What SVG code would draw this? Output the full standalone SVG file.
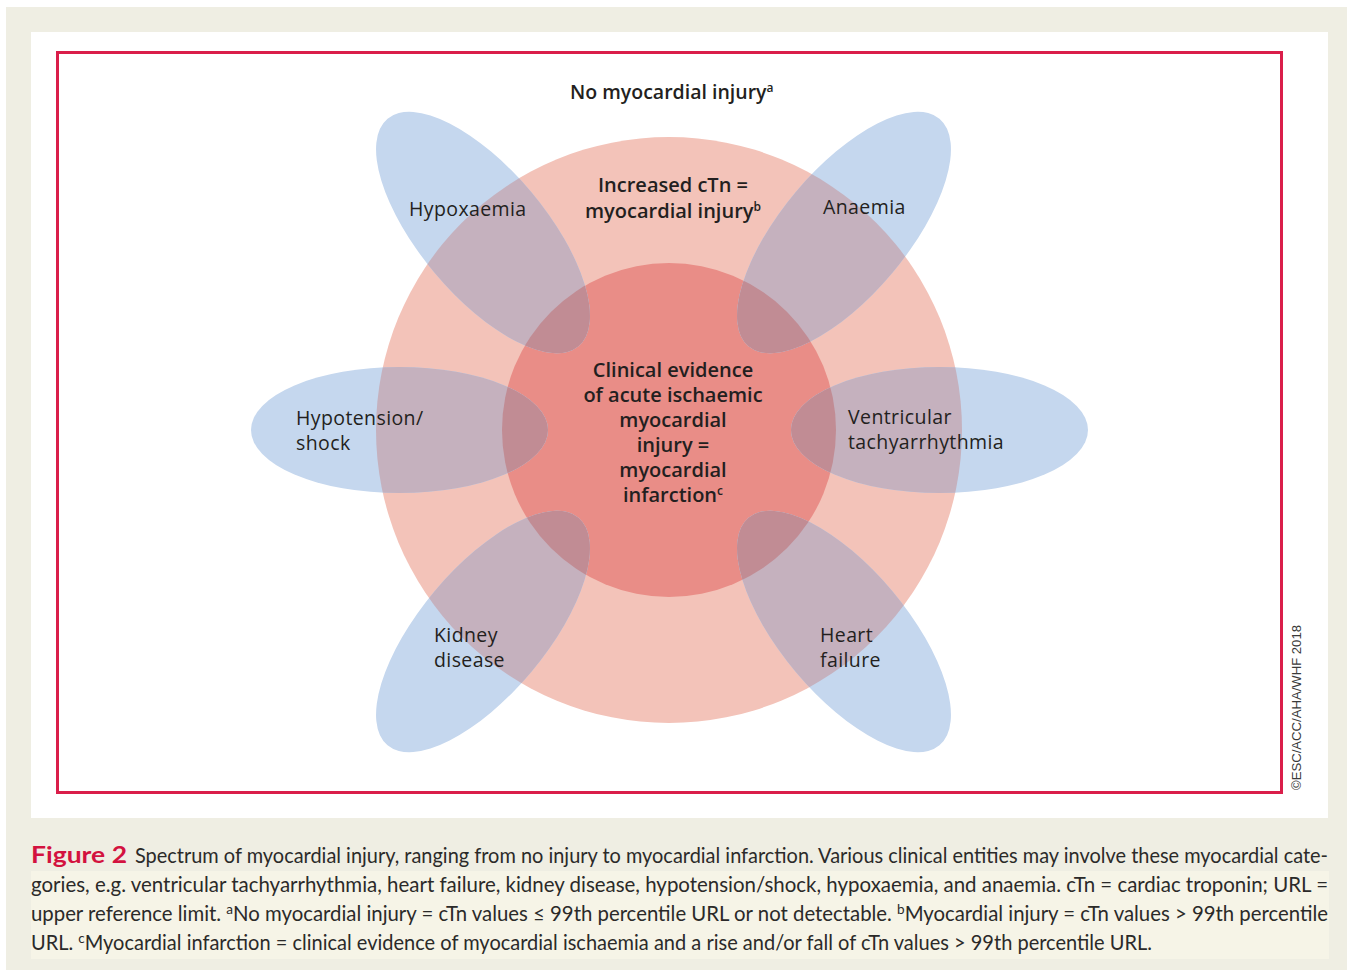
<svg xmlns="http://www.w3.org/2000/svg" width="1353" height="977" viewBox="0 0 1353 977">
<defs>
<style>
.lbl{font-family:"Open Sans","DejaVu Sans",sans-serif;font-size:19.5px;fill:#231F20;letter-spacing:0.4px;}
.ctr{font-family:"Open Sans","DejaVu Sans",sans-serif;font-size:20px;font-weight:600;fill:#231F20;text-anchor:middle;}
.cap{font-family:"Lato","Liberation Sans",sans-serif;font-size:21px;fill:#2B2A29;}
.sup{font-size:12px;}
.csup{font-size:14px;}
.blue{fill:#C5D7EE;}
.ov1{fill:#C5B1BE;}
.ov2{fill:#C18C94;}
</style>
<clipPath id="c1"><ellipse cx="0" cy="0" rx="148.5" ry="63" transform="translate(399.5 430)"/></clipPath>
<clipPath id="c2"><ellipse cx="0" cy="0" rx="148.5" ry="63" transform="translate(939.5 430)"/></clipPath>
<clipPath id="c3"><ellipse cx="0" cy="0" rx="148.5" ry="63" transform="translate(483 232.5) rotate(50)"/></clipPath>
<clipPath id="c4"><ellipse cx="0" cy="0" rx="148.5" ry="63" transform="translate(844 232.5) rotate(-50)"/></clipPath>
<clipPath id="c5"><ellipse cx="0" cy="0" rx="148.5" ry="63" transform="translate(483 631.5) rotate(-50)"/></clipPath>
<clipPath id="c6"><ellipse cx="0" cy="0" rx="148.5" ry="63" transform="translate(844 631.5) rotate(50)"/></clipPath>
</defs>
<rect x="0" y="0" width="1353" height="977" fill="#FFFFFF"/>
<rect x="6" y="7" width="1341" height="963" fill="#EFEEE3"/>
<rect x="31" y="871" width="1298" height="88" fill="#F6F4E7"/>
<rect x="31" y="32" width="1297" height="786" fill="#FFFFFF"/>
<rect x="57.5" y="52.5" width="1224" height="740" fill="none" stroke="#DA1E4A" stroke-width="3"/>

<g id="outer-circle"><circle cx="669" cy="430" r="293" fill="#F3C3B9"/></g>
<g id="inner-circle"><circle cx="669" cy="430" r="167" fill="#E98D87"/></g>

<g id="hypotension">
<ellipse class="blue" cx="0" cy="0" rx="148.5" ry="63" transform="translate(399.5 430)"/>
<circle class="ov1" cx="669" cy="430" r="293" clip-path="url(#c1)"/>
<circle class="ov2" cx="669" cy="430" r="167" clip-path="url(#c1)"/>
</g>
<g id="ventricular">
<ellipse class="blue" cx="0" cy="0" rx="148.5" ry="63" transform="translate(939.5 430)"/>
<circle class="ov1" cx="669" cy="430" r="293" clip-path="url(#c2)"/>
<circle class="ov2" cx="669" cy="430" r="167" clip-path="url(#c2)"/>
</g>
<g id="hypoxaemia">
<ellipse class="blue" cx="0" cy="0" rx="148.5" ry="63" transform="translate(483 232.5) rotate(50)"/>
<circle class="ov1" cx="669" cy="430" r="293" clip-path="url(#c3)"/>
<circle class="ov2" cx="669" cy="430" r="167" clip-path="url(#c3)"/>
</g>
<g id="anaemia">
<ellipse class="blue" cx="0" cy="0" rx="148.5" ry="63" transform="translate(844 232.5) rotate(-50)"/>
<circle class="ov1" cx="669" cy="430" r="293" clip-path="url(#c4)"/>
<circle class="ov2" cx="669" cy="430" r="167" clip-path="url(#c4)"/>
</g>
<g id="kidney">
<ellipse class="blue" cx="0" cy="0" rx="148.5" ry="63" transform="translate(483 631.5) rotate(-50)"/>
<circle class="ov1" cx="669" cy="430" r="293" clip-path="url(#c5)"/>
<circle class="ov2" cx="669" cy="430" r="167" clip-path="url(#c5)"/>
</g>
<g id="heart">
<ellipse class="blue" cx="0" cy="0" rx="148.5" ry="63" transform="translate(844 631.5) rotate(50)"/>
<circle class="ov1" cx="669" cy="430" r="293" clip-path="url(#c6)"/>
<circle class="ov2" cx="669" cy="430" r="167" clip-path="url(#c6)"/>
</g>

<g id="connectors"></g>

<g id="labels">
<text x="570" y="99" style="font-family:'Open Sans','DejaVu Sans',sans-serif;font-size:19.5px;font-weight:600;fill:#231F20">No myocardial injury<tspan class="sup" dy="-7">a</tspan></text>
<text class="ctr" x="673" y="192">Increased cTn =</text>
<text class="ctr" x="673" y="218">myocardial injury<tspan class="sup" dy="-7">b</tspan></text>
<text class="ctr" x="673" y="377">Clinical evidence</text>
<text class="ctr" x="673" y="402">of acute ischaemic</text>
<text class="ctr" x="673" y="427">myocardial</text>
<text class="ctr" x="673" y="452">injury =</text>
<text class="ctr" x="673" y="477">myocardial</text>
<text class="ctr" x="673" y="502">infarction<tspan class="sup" dy="-7">c</tspan></text>
<text class="lbl" x="409" y="216">Hypoxaemia</text>
<text class="lbl" x="823" y="214">Anaemia</text>
<text class="lbl" x="296" y="425">Hypotension/</text>
<text class="lbl" x="296" y="450">shock</text>
<text class="lbl" x="848" y="424">Ventricular</text>
<text class="lbl" x="848" y="449">tachyarrhythmia</text>
<text class="lbl" x="434" y="642">Kidney</text>
<text class="lbl" x="434" y="667">disease</text>
<text class="lbl" x="820" y="642">Heart</text>
<text class="lbl" x="820" y="667">failure</text>
<text transform="translate(1301 790) rotate(-90)" style="font-family:'Liberation Sans',sans-serif;font-size:12.5px;fill:#3A3A3A" textLength="165" lengthAdjust="spacingAndGlyphs">©ESC/ACC/AHA/WHF 2018</text>
</g>

<g id="caption">
<text x="31" y="863" style="font-family:'Lato','Liberation Sans',sans-serif;font-size:23px;font-weight:700;fill:#D3123F" textLength="96" lengthAdjust="spacingAndGlyphs">Figure 2</text>
<text class="cap" x="135" y="863" textLength="1193" lengthAdjust="spacingAndGlyphs">Spectrum of myocardial injury, ranging from no injury to myocardial infarction. Various clinical entities may involve these myocardial cate-</text>
<text class="cap" x="31" y="892" textLength="1297" lengthAdjust="spacingAndGlyphs">gories, e.g. ventricular tachyarrhythmia, heart failure, kidney disease, hypotension/shock, hypoxaemia, and anaemia. cTn = cardiac troponin; URL =</text>
<text class="cap" x="31" y="921" textLength="1297" lengthAdjust="spacingAndGlyphs">upper reference limit. <tspan class="csup" dy="-7">a</tspan><tspan dy="7">No myocardial injury = cTn values ≤ 99th percentile URL or not detectable. </tspan><tspan class="csup" dy="-7">b</tspan><tspan dy="7">Myocardial injury = cTn values &gt; 99th percentile</tspan></text>
<text class="cap" x="31" y="950" textLength="1121" lengthAdjust="spacingAndGlyphs">URL. <tspan class="csup" dy="-7">c</tspan><tspan dy="7">Myocardial infarction = clinical evidence of myocardial ischaemia and a rise and/or fall of cTn values &gt; 99th percentile URL.</tspan></text>
</g>
</svg>
